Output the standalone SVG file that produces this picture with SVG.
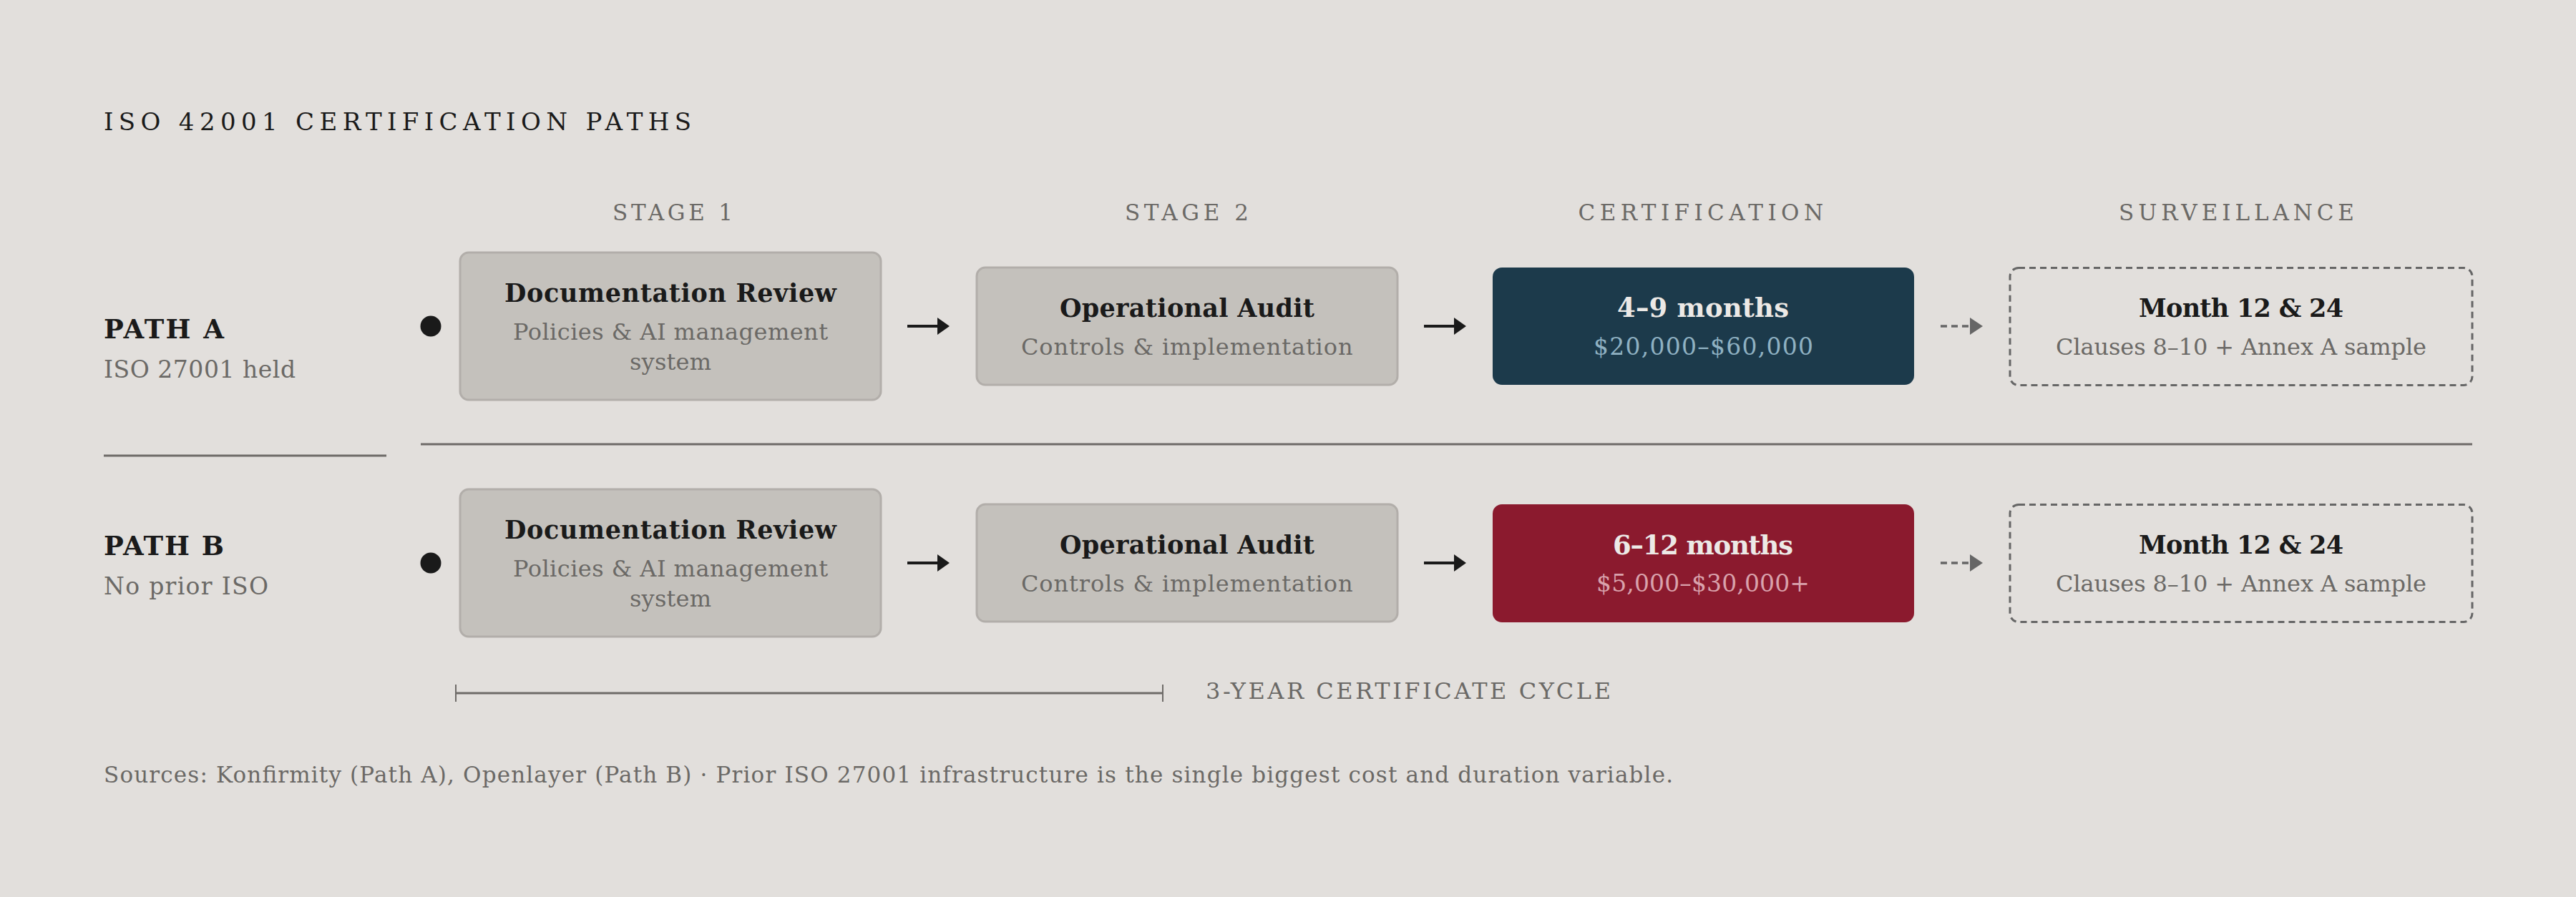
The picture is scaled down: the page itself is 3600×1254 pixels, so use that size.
<svg xmlns="http://www.w3.org/2000/svg" width="3600" height="1254" viewBox="0 0 3600 1254">
<style>
text{font-family:"DejaVu Serif","Liberation Serif",serif}
.title{font-size:34px;fill:#1a1a1a}
.stage{font-size:31px;fill:#6b6966}
.path{font-size:37px;font-weight:bold;fill:#1a1a1a}
.pathsub{font-size:33px;fill:#6b6966}
.bt{font-size:35px;font-weight:bold;fill:#1a1a1a}
.bs{font-size:32px;fill:#6b6966}
.wt{font-size:37px;font-weight:bold;fill:#ece9e6}
.navys{font-size:33px;fill:#8fb1c2}
.reds{font-size:33px;fill:#d9a2ac}
.gbox{fill:#c4c1bc;stroke:#b2aeaa;stroke-width:3}
.dbox{fill:none;stroke:#666;stroke-width:3;stroke-dasharray:9 6}
.rule{stroke:#6e6b68;stroke-width:3}
.arr{stroke:#1a1a1a;stroke-width:4}
.darr{stroke:#666;stroke-width:3.3;stroke-dasharray:9 6}
.note{font-size:31px;fill:#6b6966}
.cyc{font-size:32px;fill:#6b6966}
</style>
<rect width="3600" height="1254" fill="#e2dfdc"/>
<text class="title" x="145" y="182" textLength="821">ISO 42001 CERTIFICATION PATHS</text>
<g id="headers">
<text class="stage" x="856" y="308" textLength="168">STAGE 1</text>
<text class="stage" x="1572" y="308" textLength="173">STAGE 2</text>
<text class="stage" x="2205.5" y="308" textLength="342.5">CERTIFICATION</text>
<text class="stage" x="2961" y="308" textLength="329">SURVEILLANCE</text>
</g>
<g id="labelA">
<text class="path" x="145" y="473" textLength="168">PATH A</text>
<text class="pathsub" x="145" y="528" textLength="268">ISO 27001 held</text>
</g>
<g id="labelB">
<text class="path" x="145" y="776" textLength="168">PATH B</text>
<text class="pathsub" x="145" y="831" textLength="230">No prior ISO</text>
</g>
<g id="dividers">
<line class="rule" x1="145" y1="637" x2="540" y2="637"/>
<line class="rule" x1="588" y1="621" x2="3455" y2="621"/>
</g>
<g id="A-start"><circle cx="602" cy="456" r="14.5" fill="#1a1a1a"/></g>
<g id="A-stage1">
<rect class="gbox" x="643" y="353" width="588" height="206" rx="12"/>
<text class="bt" x="705" y="422" textLength="464">Documentation Review</text>
<text class="bs" x="717" y="475" textLength="440">Policies &amp; AI management</text>
<text class="bs" x="880" y="517" textLength="114">system</text>
</g>
<g id="A-stage2">
<rect class="gbox" x="1365" y="374" width="588" height="164" rx="12"/>
<text class="bt" x="1481" y="443" textLength="356">Operational Audit</text>
<text class="bs" x="1427" y="496" textLength="463.5">Controls &amp; implementation</text>
</g>
<g id="A-cert">
<rect x="2086" y="374" width="589" height="164" rx="13" fill="#1c3a4b"/>
<text class="wt" x="2260" y="443" textLength="240">4–9 months</text>
<text class="navys" x="2227" y="496" textLength="307">$20,000–$60,000</text>
</g>
<g id="A-surv">
<rect class="dbox" x="2809" y="374.5" width="646" height="164" rx="12"/>
<text class="bt" x="2989" y="443" textLength="286">Month 12 &amp; 24</text>
<text class="bs" x="2873" y="496" textLength="518">Clauses 8–10 + Annex A sample</text>
</g>
<g id="B-start"><circle cx="602" cy="787" r="14.5" fill="#1a1a1a"/></g>
<g id="B-stage1">
<rect class="gbox" x="643" y="684" width="588" height="206" rx="12"/>
<text class="bt" x="705" y="753" textLength="464">Documentation Review</text>
<text class="bs" x="717" y="806" textLength="440">Policies &amp; AI management</text>
<text class="bs" x="880" y="848" textLength="114">system</text>
</g>
<g id="B-stage2">
<rect class="gbox" x="1365" y="705" width="588" height="164" rx="12"/>
<text class="bt" x="1481" y="774" textLength="356">Operational Audit</text>
<text class="bs" x="1427" y="827" textLength="463.5">Controls &amp; implementation</text>
</g>
<g id="B-cert">
<rect x="2086" y="705" width="589" height="165" rx="13" fill="#8b1a2e"/>
<text class="wt" x="2254" y="775" textLength="252">6–12 months</text>
<text class="reds" x="2231" y="827" textLength="298">$5,000–$30,000+</text>
</g>
<g id="B-surv">
<rect class="dbox" x="2809" y="705.5" width="646" height="164" rx="12"/>
<text class="bt" x="2989" y="774" textLength="286">Month 12 &amp; 24</text>
<text class="bs" x="2873" y="827" textLength="518">Clauses 8–10 + Annex A sample</text>
</g>
<g id="connectors">
<line class="arr" x1="1268" y1="456" x2="1312" y2="456"/>
<polygon points="1310,444 1327,456 1310,468" fill="#1a1a1a"/>
<line class="arr" x1="1990" y1="456" x2="2034" y2="456"/>
<polygon points="2032,444 2049,456 2032,468" fill="#1a1a1a"/>
<line class="darr" x1="2712" y1="456" x2="2753" y2="456"/>
<polygon points="2753,444 2771,456 2753,468" fill="#666"/>
<line class="arr" x1="1268" y1="787" x2="1312" y2="787"/>
<polygon points="1310,775 1327,787 1310,799" fill="#1a1a1a"/>
<line class="arr" x1="1990" y1="787" x2="2034" y2="787"/>
<polygon points="2032,775 2049,787 2032,799" fill="#1a1a1a"/>
<line class="darr" x1="2712" y1="787" x2="2753" y2="787"/>
<polygon points="2753,775 2771,787 2753,799" fill="#666"/>
</g>
<g id="cycle">
<line class="rule" x1="636" y1="969" x2="1626" y2="969"/>
<line stroke="#6e6b68" stroke-width="2" x1="637" y1="957" x2="637" y2="981"/>
<line stroke="#6e6b68" stroke-width="2" x1="1625" y1="957" x2="1625" y2="981"/>
<text class="cyc" x="1685" y="977" textLength="566">3-YEAR CERTIFICATE CYCLE</text>
</g>
<text class="note" x="145" y="1094" textLength="2193">Sources: Konfirmity (Path A), Openlayer (Path B) · Prior ISO 27001 infrastructure is the single biggest cost and duration variable.</text>
</svg>
